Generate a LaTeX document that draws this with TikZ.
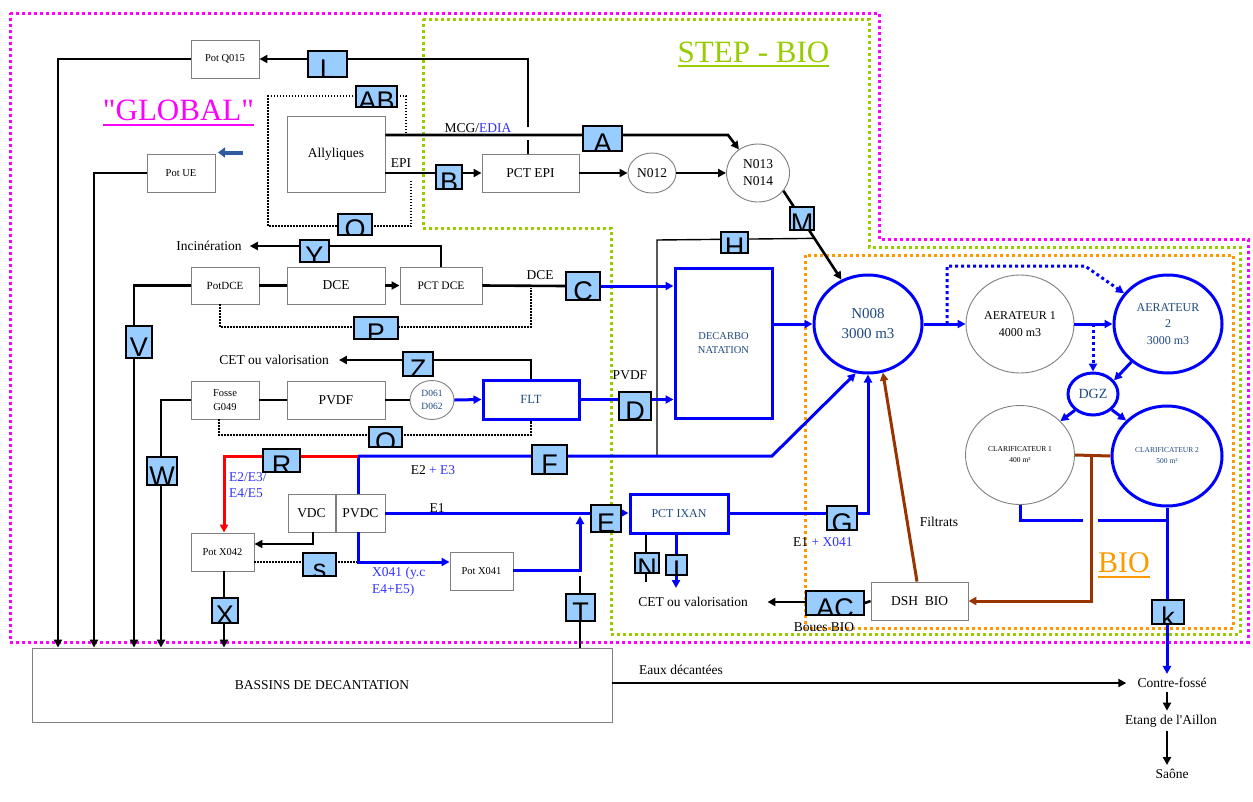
\documentclass[tikz,border=0pt]{standalone}
\usepackage{fontspec}
\setmainfont{Liberation Serif}
\newfontfamily\labfont{Liberation Sans}
\newfontfamily\plainserif{Liberation Serif}[Ligatures=TeXOff]
\usetikzlibrary{arrows.meta,shapes.geometric}
\definecolor{labfill}{RGB}{153,204,255}
\definecolor{dkblue}{RGB}{31,73,125}
\definecolor{txtblue}{RGB}{51,51,255}
\definecolor{brownc}{RGB}{153,51,0}
\definecolor{grn}{RGB}{153,204,0}
\definecolor{orng}{RGB}{255,153,0}
\definecolor{mag}{RGB}{255,0,255}
\definecolor{boxgray}{RGB}{128,128,128}
\definecolor{arrblue}{RGB}{46,92,158}
\newcommand\fsz[2]{\fontsize{#1}{#2}\selectfont}
\begin{document}
\begin{tikzpicture}[x=1pt,y=-1pt,
  every node/.style={font=\fsz{13.5}{16}},
  box/.style={draw=boxgray,line width=0.9pt,fill=white,inner sep=0pt,align=center},
  bbox/.style={draw=blue,line width=3pt,fill=white,inner sep=0pt,align=center,text=dkblue},
  ell/.style={ellipse,draw=boxgray,line width=0.9pt,fill=white,inner sep=0pt,align=center},
  bell/.style={ellipse,draw=blue,line width=3pt,fill=white,inner sep=0pt,align=center,text=dkblue},
  lab/.style={draw=black,line width=1.6pt,fill=labfill,inner sep=0pt,
    path picture={\node[anchor=north,inner sep=0pt,text height=19.3pt,text depth=0pt,
      font=\labfont\fsz{27}{27}] at ([yshift=-4pt]path picture bounding box.north) {#1};}},
  txt/.style={inner sep=0pt,align=center},
  dest/.style={inner sep=4pt},
  blk/.style={draw=black,line width=2.6pt},
  thinl/.style={draw=black,line width=1.4pt},
  blu/.style={draw=blue,line width=3pt},
  redl/.style={draw=red,line width=3pt},
  brn/.style={draw=brownc,line width=3pt},
  arr/.style={-{Triangle[length=8pt,width=8pt]}},
  dots/.style={draw=black,line width=1.5pt,dash pattern=on 1.5pt off 1.5pt},
  bdots/.style={draw=blue,line width=3pt,dash pattern=on 3pt off 3pt},
  zone/.style={line width=3pt,dash pattern=on 3pt off 3pt},
]
\useasboundingbox (0,0) rectangle (1253,801);
\fill[white] (0,0) rectangle (1253,801);

% zones
\draw[zone,mag] (10,13) -- (879,13) -- (879,239) -- (1248,239) -- (1248,642) -- (10,642) -- cycle;
\draw[zone,grn] (423,19) -- (869,19) -- (869,247) -- (1240,247) -- (1240,634) -- (611,634) -- (611,228) -- (423,228) -- cycle;
\draw[zone,orng] (805,255) rectangle (1233,628);

% titles
\node[txt,text=mag,font=\plainserif\fsz{31}{31},anchor=base] (tglob) at (178.5,120) {"GLOBAL"};
\draw[mag,line width=1.3pt] ([yshift=-5pt]tglob.base west) -- ([yshift=-5pt]tglob.base east);
\node[txt,text=grn,font=\fsz{31}{31},anchor=base] (tstep) at (753.5,62) {STEP - BIO};
\draw[grn,line width=1.3pt] ([yshift=-4pt]tstep.base west) -- ([yshift=-4pt]tstep.base east);
\node[txt,text=orng,font=\fsz{30}{30},anchor=base] (tbio) at (1124,572) {BIO};
\draw[orng,line width=1.3pt] ([yshift=-5pt]tbio.base west) -- ([yshift=-5pt]tbio.base east);

% boxes
\node[box,minimum width=68pt,minimum height=38pt,font=\fsz{10.5}{13}] (potq) at (225,59) {Pot Q015};
\node[box,minimum width=68pt,minimum height=38pt,font=\fsz{10.5}{13}] (potue) at (181,173) {Pot UE};
\node[box,minimum width=98pt,minimum height=76pt] (ally) at (336,154) {Allyliques};
\node[box,minimum width=97pt,minimum height=38pt] (pctepi) at (530.5,173) {PCT EPI};
\node[ell,minimum width=48pt,minimum height=40pt] (n012) at (652,173) {N012};
\node[ell,minimum width=63pt,minimum height=58pt,font=\fsz{13.5}{17}] (n013) at (758,173) {N013\\N014};
\node[box,minimum width=68pt,minimum height=37pt,font=\fsz{11}{13}] (potdce) at (225,285.5) {PotDCE};
\node[box,minimum width=98pt,minimum height=37pt] (dce) at (336,285.5) {DCE};
\node[box,minimum width=82pt,minimum height=37pt,font=\fsz{11.5}{13}] (pctdce) at (441,285.5) {PCT DCE};
\node[box,minimum width=68pt,minimum height=38pt,font=\fsz{10.5}{13.5}] (fosse) at (225,400) {Fosse\\G049};
\node[box,minimum width=98pt,minimum height=38pt] (pvdf) at (336,400) {PVDF};
\node[ell,minimum width=44pt,minimum height=39pt,text=dkblue,font=\fsz{9.5}{12.5}] (d061) at (432,400) {D061\\D062};
\node[bbox,minimum width=96pt,minimum height=39pt,font=\fsz{12.5}{14}] (flt) at (531,399.5) {FLT};
\node[bbox,minimum width=97pt,minimum height=150pt,font=\fsz{10.5}{13.5}] (decarbo) at (723.5,343) {DECARBO\\NATATION};
\node[bell,minimum width=108pt,minimum height=98pt,font=\fsz{15}{20}] (n008) at (868,324) {N008\\3000 m3};
\node[ell,minimum width=108pt,minimum height=98pt,font=\fsz{12}{17}] (aer1) at (1020,324) {AERATEUR 1\\4000 m3};
\node[bell,minimum width=108pt,minimum height=98pt,font=\fsz{12}{16.5}] (aer2) at (1168,324) {AERATEUR\\2\\3000 m3};
\node[bell,minimum width=50pt,minimum height=42pt,font=\fsz{14}{16}] (dgz) at (1093,394) {DGZ};
\node[ell,minimum width=109pt,minimum height=99pt,font=\fsz{7.5}{11}] (clar1) at (1020,455) {CLARIFICATEUR 1\\400 m²};
\node[bell,minimum width=110pt,minimum height=100pt,font=\fsz{7.5}{11}] (clar2) at (1167,456) {CLARIFICATEUR 2\\500 m²};
\node[box,minimum width=47pt,minimum height=38pt] (vdc) at (311.5,513) {VDC};
\node[box,minimum width=49pt,minimum height=38pt] (pvdc) at (360.5,513) {PVDC};
\node[box,minimum width=63pt,minimum height=38pt,font=\fsz{10.5}{13}] (potx042) at (222.5,552) {Pot X042};
\node[box,minimum width=63pt,minimum height=38pt,font=\fsz{10.5}{13}] (potx041) at (481.5,571) {Pot X041};
\node[bbox,minimum width=98pt,minimum height=39pt,font=\fsz{12}{14}] (pctixan) at (679,513.5) {PCT IXAN};
\node[box,minimum width=97pt,minimum height=38pt] (dsh) at (919.5,601) {DSH\ \ BIO};
\node[box,minimum width=580pt,minimum height=74pt] (bassins) at (322,685) {BASSINS DE DECANTATION};

% destinations
\node[dest] (incin) at (209,246) {Incinération};
\node[dest] (cet1) at (274,360) {CET ou valorisation};
\node[dest] (cet2) at (693,602) {CET ou valorisation};
\node[dest] (contre) at (1172,683) {Contre-fossé};
\node[dest,font=\plainserif\fsz{13.5}{16}] (etang) at (1171,721) {Etang de l'Aillon};
\node[dest] (saone) at (1172,774) {Saône};

% other texts
\node[txt] (tepi) at (401,163) {EPI};
\node[txt] (tmcg) at (478,128) {MCG/\textcolor{txtblue}{EDIA}};
\node[txt] (tdce) at (540,275) {DCE};
\node[txt] (tpvdf) at (630,375) {PVDF};
\node[txt,align=left,anchor=west,text=txtblue] (te2) at (229,485) {E2/E3/\\E4/E5};
\node[txt] (te23) at (433,470) {E2 \textcolor{txtblue}{+ E3}};
\node[txt] (te1) at (437,508) {E1};
\node[txt,align=left,anchor=west,text=txtblue,font=\fsz{13.5}{17}] (tx041) at (372,581.5) {X041 (y.c\\E4+E5)};
\node[txt,anchor=west] (te1x) at (793,542) {E1 \textcolor{txtblue}{+ X041}};
\node[txt] (tfil) at (939,522) {Filtrats};
\node[txt] (tboues) at (824,627) {Boues BIO};
\node[txt] (teaux) at (681,670) {Eaux décantées};

% small blue arrow near Pot UE
\draw[arrblue,line width=4pt,-{Triangle[length=7pt,width=10pt]}] (243,152.5) -- (218,152.5);

% ---- connectors ----
\draw[blk,arr] (potq.west) -| (bassins.north -| 58,0);
\draw[blk,arr] (potue.west) -| (bassins.north -| 94,0);
\draw[blk,arr] (potdce.west) -| (bassins.north -| 134,0);
\draw[blk,arr] (fosse.west) -| (bassins.north -| 161,0);
\draw[blk,arr] (potx042.south -| 224,0) -- (bassins.north -| 224,0);

% L
\draw[blk] ([xshift=-2.5pt]pctepi.north) -- ([xshift=-2.5pt,yshift=14pt]pctepi.north);
\draw[blk,arr] ([xshift=-2.5pt,yshift=27pt]pctepi.north) |- (potq.east);
% MCG / EPI
\draw[blk,arr] (ally.east |- 0,135) -- (728,135) -- (n013.129);
\draw[blk,arr] (ally.east |- 0,173) -- (pctepi.west);
\draw[blk,arr] (pctepi.east) -- (n012.west);
\draw[blk,arr] (n012.east) -- (n013.west);
\draw[blk,arr] (n013.325) -- (n008.121);
\path (n013.325) -- (n008.121) coordinate[pos=0.535] (hm);
\draw[thinl] (hm) -- (657,240) -- (657,456);
% AB / O dotted
\draw[dots] (406,133) -- (406,96) -- (268,96) -- (268,226) -- (411,226) -- (411,180);

% DCE line
\draw[blk,arr] (pctdce.north) |- ([xshift=4pt]incin.east);
\draw[blk] (potdce.east) -- (dce.west);
\draw[blk,arr] (dce.east) -- (pctdce.west);
\node[lab=C,minimum width=34pt,minimum height=28pt] (lC) at (583,286) {};
\draw[blk] (pctdce.east) -- (lC.west);
\draw[blu,arr] (lC.east) -- (lC.east -| decarbo.west);
\draw[dots] ([xshift=-5pt]potdce.south) |- (531,327) -- (531,288);

% PVDF line
\draw[blk,arr] (flt.north) |- ([xshift=6pt]cet1.east);
\draw[blk] (fosse.east) -- (pvdf.west);
\draw[blk] (pvdf.east) -- (d061.west);
\draw[blu,arr] (d061.east) -- (flt.west);
\draw[dots] ([xshift=-6pt]fosse.south) |- (531,435) -- (flt.south);
\draw[blu,arr] (flt.east) -- (flt.east -| decarbo.west);
\draw[blu,arr] (decarbo.east |- n008.west) -- (n008.west);

% aeration
\draw[blu,arr] (n008.east) -- (aer1.west);
\draw[blu,arr] (aer1.east) -- (aer2.west);
\draw[bdots,arr] (947,324) -- (947,266) -- (1085,266) -- (aer2.145);
\draw[bdots,arr] (1093,324) -- (dgz.north);
\draw[blu,arr] (aer2.226) -- (dgz.33);
\draw[blu,arr] (dgz.222) -- (clar1.40);
\draw[blu,arr] (dgz.320) -- (clar2.139);

% sludge
\draw[brn] (clar1.east) -- (clar2.west);
\draw[brn,arr] (1091,456) |- (dsh.east);
\draw[brn,arr] (dsh.north -| 917,0) -- (n008.287);

% clarified water
\draw[blu] (clar1.south) |- (1083,520);
\draw[blu] (1098,520) -- (1166,520);
\draw[blu,arr] (clar2.south) -- (clar2.south |- contre.north);
\draw[blk,arr] (contre.south -| 1167,0) -- (etang.north -| 1167,0);
\draw[blk,arr] (etang.south -| 1167,0) -- (saone.north -| 1167,0);
\draw[blk,arr] (bassins.east |- contre.west) -- ([xshift=-7pt]contre.west);

% E lines
\coordinate (jR) at (358,456);
\draw[blu,arr] (jR) -- (772,456) -- (n008.256);
\draw[blu] (jR) -- (pvdc.north -| jR);
\draw[redl,arr] (jR) -| (potx042.north -| 224,0);
\draw[blk,arr] ([xshift=1.5pt]vdc.south) |- (potx042.east |- 0,544);
\draw[dots] (potx042.east |- 0,562) -- (358,562);
\draw[blu,arr] (pvdc.south -| jR) |- (potx041.west |- 0,562);
\draw[blu,arr] (pvdc.east) -- (pctixan.west |- pvdc.east);
\draw[blu,arr] (potx041.east |- 0,570) -| (580,516);
\draw[thinl] (580,576) -- (bassins.north -| 580,0);
\draw[thinl] (pctixan.south -| 646,0) -- (646,582);
\draw[blu,arr] (pctixan.south -| 676,0) -- (676,588);
\draw[blu,arr] (pctixan.east) -| (n008.south);

% AC
\node[lab=AC,minimum width=58pt,minimum height=24pt] (lAC) at (835,603) {};
\draw[blk] (dsh.west) -- (lAC.east);
\draw[blk,arr] (lAC.west |- cet2.east) -- ([xshift=15.5pt]cet2.east);

% labels
\node[lab=L,minimum width=39pt,minimum height=26pt] (lL) at (327.5,64) {};
\node[lab=AB,minimum width=41pt,minimum height=21pt] (lAB) at (376.5,96.5) {};
\node[lab=O,minimum width=34pt,minimum height=21pt] (lO) at (355,224.5) {};
\node[lab=B,minimum width=26pt,minimum height=24pt] (lB) at (449,177) {};
\node[lab=A,minimum width=39pt,minimum height=25pt] (lA) at (602.5,138.5) {};
\node[lab=M,minimum width=24pt,minimum height=23pt] (lM) at (802,218.5) {};
\node[lab=H,minimum width=27pt,minimum height=21pt] (lH) at (734.5,242.5) {};
\node[lab=Y,minimum width=29pt,minimum height=22pt] (lY) at (314.5,251) {};
\node[lab=V,minimum width=26pt,minimum height=32pt] (lV) at (139,342) {};
\node[lab=P,minimum width=44pt,minimum height=22pt] (lP) at (376,328) {};
\node[lab=Z,minimum width=30pt,minimum height=24pt] (lZ) at (418,364) {};
\node[lab=Q,minimum width=33pt,minimum height=20pt] (lQ) at (385.5,437) {};
\node[lab=D,minimum width=32pt,minimum height=28pt] (lD) at (635,406) {};
\node[lab=W,minimum width=30pt,minimum height=28pt] (lW) at (162,471) {};
\node[lab=R,minimum width=37pt,minimum height=23pt] (lR) at (281.5,460.5) {};
\node[lab=F,minimum width=35pt,minimum height=29pt] (lF) at (549.5,459.5) {};
\node[lab=E,minimum width=30pt,minimum height=27pt] (lE) at (606,518.5) {};
\node[lab=s,minimum width=33pt,minimum height=23pt] (lS) at (319.5,564.5) {};
\node[lab=X,minimum width=26pt,minimum height=25pt] (lX) at (225,610.5) {};
\node[lab=T,minimum width=29pt,minimum height=27pt] (lT) at (580.5,607.5) {};
\node[lab=N,minimum width=24pt,minimum height=20pt] (lN) at (647,563) {};
\node[lab=I,minimum width=21pt,minimum height=20pt] (lI) at (676.5,565) {};
\node[lab=G,minimum width=30pt,minimum height=24pt] (lG) at (842,518) {};
\node[lab=k,minimum width=32pt,minimum height=24pt] (lk) at (1168,612) {};
\end{tikzpicture}
\end{document}
